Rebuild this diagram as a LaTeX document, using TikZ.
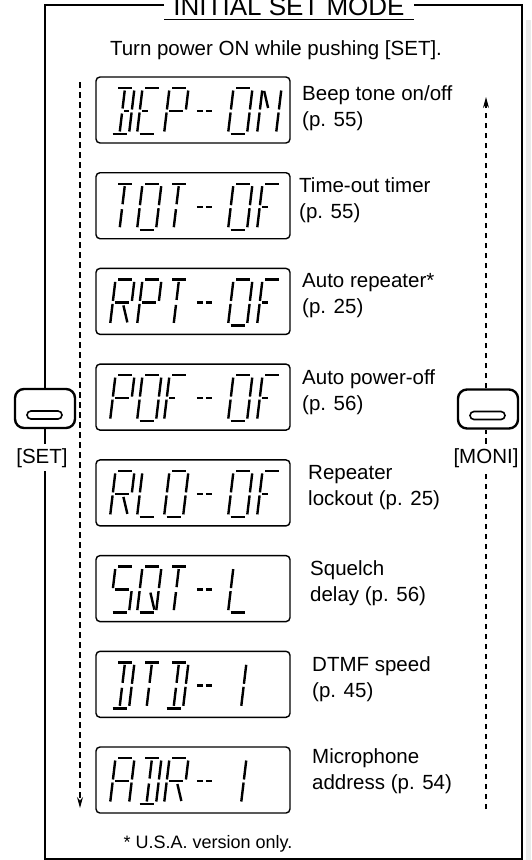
\documentclass[tikz,border=0pt]{standalone}
\usepackage{fontspec}
\setmainfont{Liberation Sans}
\usetikzlibrary{arrows.meta}

% LCD segments: x1/y1/x2/y2 in a 19 x 46 cell, origin at bottom left
\newcommand{\lcdsegdef}[2]{\expandafter\def\csname lcdseg#1\endcsname{#2}}
\lcdsegdef{a}{2.5/-46/16.5/-46}
\lcdsegdef{b}{19/-43.5/19/-24.5}
\lcdsegdef{c}{19/-21.5/19/-2.5}
\lcdsegdef{d}{2.5/0/16.5/0}
\lcdsegdef{e}{0/-21.5/0/-2.5}
\lcdsegdef{f}{0/-43.5/0/-24.5}
\lcdsegdef{g1}{2.5/-23/8/-23}
\lcdsegdef{g2}{11/-23/16.5/-23}
\lcdsegdef{gm}{2.5/-23/16.5/-23}
\lcdsegdef{h}{9.5/-43.5/9.5/-25.5}
\lcdsegdef{i}{9.5/-20.5/9.5/-2.5}
\lcdsegdef{k}{11/-20/17/-3}
\lcdsegdef{n}{2/-43/8/-26}
\lcdsegdef{m1}{0/-23/6/-23}
\lcdsegdef{m2}{9/-23/15/-23}

\newcommand{\lcdletter}[2]{\expandafter\def\csname lcdletter#1\endcsname{#2}}
\lcdletter{A}{a,b,c,e,f,gm}
\lcdletter{B}{a,b,c,d,g2,h,i}
\lcdletter{D}{a,b,c,d,h,i}
\lcdletter{E}{a,d,e,f,g1}
\lcdletter{F}{a,e,f,g1}
\lcdletter{L}{d,e,f}
\lcdletter{N}{b,c,e,f,n}
\lcdletter{O}{a,b,c,d,e,f}
\lcdletter{P}{a,b,e,f,gm}
\lcdletter{Q}{a,b,c,d,e,f,k}
\lcdletter{R}{a,b,e,f,gm,k}
\lcdletter{S}{a,f,gm,c,d}
\lcdletter{T}{a,h,i}
\lcdletter{1}{b,c}
\lcdletter{-}{m1,m2}

\def\lcdline#1/#2/#3/#4\relax{\draw[lcdseg] (#1,#2) -- (#3,#4);}
\newcommand{\lcdchar}[3]{%
  \begin{scope}[shift={(#1,#2)}, xslant=0.12]
    \edef\lcdsegs{\csname lcdletter#3\endcsname}%
    \foreach \s in \lcdsegs {%
      \edef\lcdxy{\csname lcdseg\s\endcsname}%
      \expandafter\lcdline\lcdxy\relax}
  \end{scope}}
\newcommand{\lcdword}[2]{\foreach \gx/\gch in {#2} {\lcdchar{\gx}{#1}{\gch}}}

\begin{document}
\begin{tikzpicture}[
  x=1pt, y=-1pt,
  frame/.style={line width=2.6pt},
  flow/.style={line width=1.2pt, dash pattern=on 5.5pt off 4.5pt},
  lcdbox/.style={draw, line width=1.4pt, rounded corners=4pt, minimum width=194pt, minimum height=66pt, inner sep=0pt},
  lcdseg/.style={line width=2.4pt},
  keybox/.style={draw, line width=2.4pt, rounded corners=9pt, minimum width=60pt, minimum height=39pt, inner sep=0pt},
  keypill/.style={draw, line width=1.6pt, rounded corners=4pt, minimum width=35pt, minimum height=8pt, inner sep=0pt},
  keylabel/.style={anchor=base, inner xsep=2pt, inner ysep=4pt, font=\fontsize{20.5}{24}\selectfont},
  menu/.style={anchor=north west, align=left, inner sep=0pt, font=\fontsize{20.5}{26}\selectfont},
  >=Stealth
]
  \useasboundingbox (0,0) rectangle (531,860);
  \fill[black!8] (526,20) rectangle (531,860);

  \node[anchor=base, inner xsep=9pt, inner ysep=4pt, font=\fontsize{26}{30}\selectfont] (title) at (289,15) {INITIAL SET MODE};
  \node[anchor=base, font=\fontsize{20.5}{24}\selectfont] (howto) at (276,55) {Turn power ON while pushing [SET].};

  % keys on the frame
  \node[keybox] (setkey) at (45,408.5) {};
  \node[keypill] (setpill) at (44.5,415) {};
  \node[keylabel] (setlabel) at (42,463) {[SET]};
  \node[keybox] (monikey) at (488,409) {};
  \node[keypill] (monipill) at (487.5,415.5) {};
  \node[keylabel] (monilabel) at (486,463) {[MONI]};

  \coordinate (tl) at (45,5);
  \coordinate (tr) at (522,5);
  \coordinate (bl) at (45,859);
  \coordinate (br) at (522,859);
  \draw[frame] (title.west |- tl) -- (tl) -- (setkey.north -| tl);
  \draw[frame] (setkey.south -| tl) -- (setlabel.north -| tl);
  \draw[frame] (setlabel.south -| tl) -- (bl) -- (br) -- (tr) -- (title.east |- tr);
  \draw[line width=1pt] (title.south west) -- (title.south east);

  % LCD screens and their items
  \node[lcdbox] (lcd1) at (193,110) {};
  \node[menu] (menu1) at (302,85) {Beep tone on/off\\(p. 55)};
  \lcdword{134}{110/B,137/E,164/P,194/-,228/O,257/N}

  \node[lcdbox] (lcd2) at (193,205.7) {};
  \node[menu] (menu2) at (299,177.7) {Time-out timer\\(p. 55)};
  \lcdword{229.7}{110/T,137/O,164/T,194/-,228/O,257/F}

  \node[lcdbox] (lcd3) at (193,301.4) {};
  \node[menu] (menu3) at (302,273.4) {Auto repeater*\\(p. 25)};
  \lcdword{325.4}{110/R,137/P,164/T,194/-,228/O,257/F}

  \node[lcdbox] (lcd4) at (193,397.1) {};
  \node[menu] (menu4) at (302,369) {Auto power-off\\(p. 56)};
  \lcdword{421.1}{110/P,137/O,164/F,194/-,228/O,257/F}

  \node[lcdbox] (lcd5) at (193,492.9) {};
  \node[menu] (menu5) at (308,465) {Repeater\\lockout (p. 25)};
  \lcdword{516.9}{110/R,137/L,164/O,194/-,228/O,257/F}

  \node[lcdbox] (lcd6) at (193,588.6) {};
  \node[menu] (menu6) at (310,560.6) {Squelch\\delay (p. 56)};
  \lcdword{612.6}{110/S,137/Q,164/T,194/-,228/L}

  \node[lcdbox] (lcd7) at (193,684.3) {};
  \node[menu] (menu7) at (312,656) {DTMF speed\\(p. 45)};
  \lcdword{708.3}{110/D,137/T,164/D,194/-,222/1}

  \node[lcdbox] (lcd8) at (193,780) {};
  \node[menu] (menu8) at (312,748) {Microphone\\address (p. 54)};
  \lcdword{804}{110/A,137/D,164/R,194/-,222/1}

  % flow lines
  \coordinate (settop) at (80,82);
  \coordinate (setend) at (80,808);
  \coordinate (monitop) at (486,97);
  \coordinate (moniend) at (486,809);
  \draw[flow, -{Stealth[length=11pt, width=6pt]}] (settop) -- (setend);
  \draw[flow] (moniend) -- (monilabel.south -| moniend);
  \draw[flow] (monilabel.north -| moniend) -- (monikey.south -| moniend);
  \draw[flow, -{Stealth[length=11pt, width=6pt]}] (monikey.north -| moniend) -- (monitop);

  \node[anchor=base west, font=\fontsize{18}{22}\selectfont] (usanote) at (120,848) {* U.S.A. version only.};
\end{tikzpicture}
\end{document}
